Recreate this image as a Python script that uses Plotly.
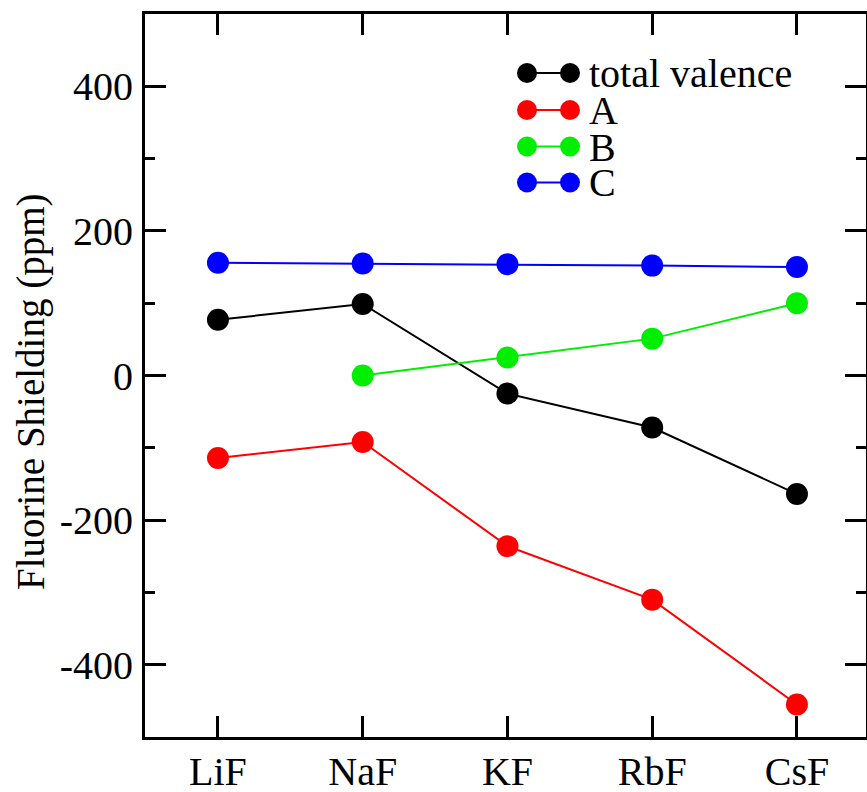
import plotly.graph_objects as go

categories = ["LiF", "NaF", "KF", "RbF", "CsF"]
series_names = ["total valence", "A", "B", "C"]
total_valence = [77, 99, -25, -72, -164]
series_a = [-114, -92, -236, -310, -455]
series_b = [None, 0, 25, 51, 100]
series_c = [156, 155, 154, 152, 150]
colors = ["#000000", "#ff0000", "#00ee00", "#0000ff"]
y_ticks = [-400, -200, 0, 200, 400]
y_tick_text = ["-400", "-200", "0", "200", "400"]
y_title = "Fluorine Shielding (ppm)"

FONT = "Liberation Serif, Times New Roman, Times, serif"
W, H = 867, 792
L, R, T, B = 145, 1, 14, 55
PW, PH = W - L - R, H - T - B

fig = go.Figure()
for name, vals, col in zip(series_names, [total_valence, series_a, series_b, series_c], colors):
    fig.add_trace(go.Scatter(
        x=categories, y=vals, name=name, mode="lines+markers",
        line=dict(color=col, width=2),
        marker=dict(color=col, size=22),
        showlegend=False, connectgaps=False,
    ))

def px(xp):
    return (xp - L) / PW

def py(yp):
    return (H - B - yp) / PH

# custom legend (two dots joined by a line, like the original)
row_y = [73, 110, 146.5, 182.5]
for name, col, yy in zip(series_names, colors, row_y):
    fig.add_shape(type="line", xref="paper", yref="paper",
                  x0=px(527), x1=px(570), y0=py(yy), y1=py(yy),
                  line=dict(color=col, width=2))
    for cx in (527, 570):
        fig.add_shape(type="circle", xref="paper", yref="paper",
                      x0=px(cx - 10), x1=px(cx + 10), y0=py(yy - 10), y1=py(yy + 10),
                      line=dict(color=col, width=0), fillcolor=col)
    fig.add_annotation(xref="paper", yref="paper", x=px(588), y=py(yy),
                       xanchor="left", yanchor="middle", text=name, showarrow=False,
                       height=34, valign="middle", borderpad=0,
                       font=dict(family=FONT, size=40, color="black"))

# y-axis title (placed a little below centre, as in the original)
fig.add_annotation(xref="paper", yref="paper", x=px(31), y=py(392),
                   xanchor="center", yanchor="middle", text=y_title, textangle=-90,
                   showarrow=False, borderpad=0,
                   font=dict(family=FONT, size=39, color="black"))

fig.update_layout(
    width=W, height=H,
    margin=dict(l=L, r=R, t=T, b=B, pad=0),
    paper_bgcolor="white", plot_bgcolor="white",
    font=dict(family=FONT, color="black", size=40),
)
fig.update_xaxes(
    type="category", range=[-0.504, 4.477], automargin=False,
    showline=True, linecolor="black", linewidth=3, mirror="ticks",
    ticks="inside", ticklen=21, tickwidth=2.5, tickcolor="black",
    showgrid=False, zeroline=False,
    tickfont=dict(family=FONT, size=40), ticklabelstandoff=-3,
)
fig.update_yaxes(
    range=[-500, 500], tickvals=y_ticks, ticktext=y_tick_text, automargin=False,
    showline=True, linecolor="black", linewidth=3, mirror="ticks",
    ticks="inside", ticklen=21, tickwidth=2.5, tickcolor="black",
    minor=dict(ticks="inside", ticklen=10, tickwidth=2.5, tickcolor="black", dtick=100, tick0=0, showgrid=False),
    showgrid=False, zeroline=False,
    tickfont=dict(family=FONT, size=40), ticklabelstandoff=1,
)

fig.write_html("out.html")
